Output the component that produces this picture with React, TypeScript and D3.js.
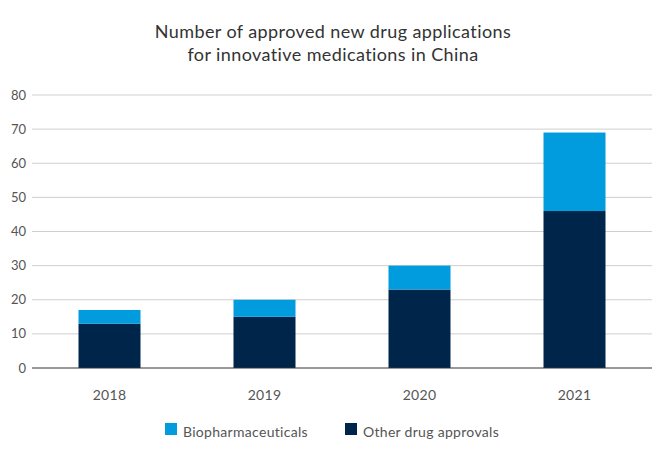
import * as d3 from "d3";
import React from "react";

const years = ["2018", "2019", "2020", "2021"];
const otherApprovals = [13, 15, 23, 46];
const biopharma = [4, 5, 7, 23];
const yTicks = [0, 10, 20, 30, 40, 50, 60, 70, 80];
const titleLines = [
  "Number of approved new drug applications",
  "for innovative medications in China",
];

const W = 666;
const H = 451;
const left = 32;
const right = 652;
const top = 95;
const bottom = 368;
const font = "Lato, 'Noto Sans', sans-serif";
const darkBlue = "#00254A";
const lightBlue = "#009CDE";

export default function App() {
  const x = d3.scaleBand().domain(years).range([left, right]).paddingInner(0.6).paddingOuter(0.3);
  const y = d3.scaleLinear().domain([0, 80]).range([bottom, top]);

  return (
    <svg width={W} height={H} style={{ position: "absolute", left: 0, top: 0 }}>
      <rect width={W} height={H} fill="#fff" />
      {titleLines.map((t, i) => (
        <text key={t} x={333} y={38 + i * 23} textAnchor="middle" fontFamily={font} fontSize={18} letterSpacing={0.4} fill="#333">
          {t}
        </text>
      ))}
      {yTicks.map((v) => (
        <g key={v}>
          {v > 0 && <line x1={left} x2={right} y1={y(v)} y2={y(v)} stroke="#cfcfcf" />}
          <text x={26} y={y(v) + 4.5} textAnchor="end" fontFamily={font} fontSize={13} fill="#555">
            {v}
          </text>
        </g>
      ))}
      {years.map((yr, i) => {
        const bx = x(yr)!;
        const bw = x.bandwidth();
        const o = otherApprovals[i];
        const b = biopharma[i];
        return (
          <g key={yr}>
            <rect x={bx} width={bw} y={y(o)} height={y(0) - y(o)} fill={darkBlue} />
            <rect x={bx} width={bw} y={y(o + b)} height={y(o) - y(o + b)} fill={lightBlue} />
            <text x={bx + bw / 2} y={400} textAnchor="middle" fontFamily={font} fontSize={14} letterSpacing={0.3} fill="#555">
              {yr}
            </text>
          </g>
        );
      })}
      <line x1={left} x2={right} y1={y(0)} y2={y(0)} stroke="#333" />
      <rect x={165} y={423} width={12} height={12} fill={lightBlue} />
      <text x={183} y={437} fontFamily={font} fontSize={14} letterSpacing={0.3} fill="#555">Biopharmaceuticals</text>
      <rect x={345} y={423} width={12} height={12} fill={darkBlue} />
      <text x={363} y={437} fontFamily={font} fontSize={14} letterSpacing={0.3} fill="#555">Other drug approvals</text>
    </svg>
  );
}
